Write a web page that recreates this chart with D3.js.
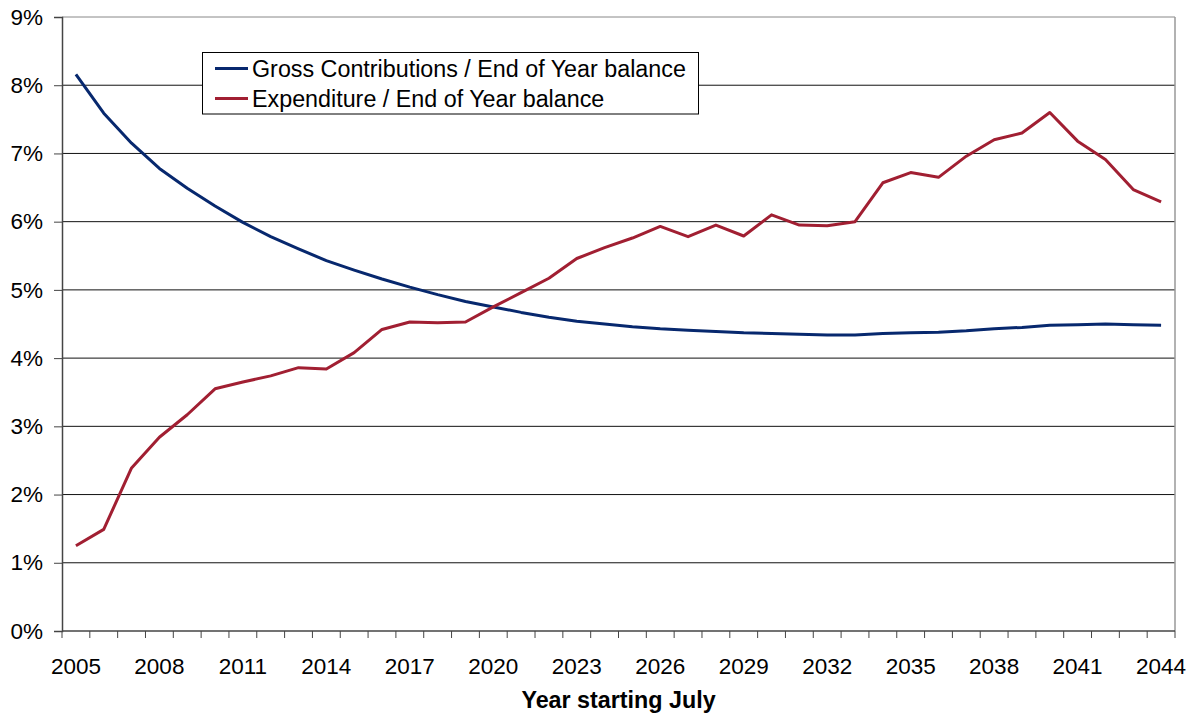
<!DOCTYPE html>
<html>
<head>
<meta charset="utf-8">
<script src="https://cdn.jsdelivr.net/npm/d3@7"></script>
<style>
  html, body { margin: 0; padding: 0; background: #fff; }
  svg { display: block; font-family: "Liberation Sans", Arial, sans-serif; }
</style>
</head>
<body>
<svg id="chart" width="1197" height="717"></svg>
<script>
// Financial years, July start
const years = d3.range(2005, 2045);

// Percentages of end-of-year balance
const grossContributions = [
  8.16, 7.59, 7.15, 6.78, 6.49, 6.23, 5.99, 5.78, 5.60, 5.43,
  5.29, 5.16, 5.04, 4.93, 4.83, 4.75, 4.67, 4.60, 4.54, 4.50,
  4.46, 4.43, 4.41, 4.39, 4.37, 4.36, 4.35, 4.34, 4.34, 4.36,
  4.37, 4.38, 4.40, 4.43, 4.45, 4.48, 4.49, 4.50, 4.49, 4.48
];
const expenditure = [
  1.25, 1.49, 2.39, 2.84, 3.17, 3.55, 3.65, 3.74, 3.86, 3.84,
  4.08, 4.42, 4.53, 4.52, 4.53, 4.75, 4.96, 5.17, 5.46, 5.62,
  5.76, 5.93, 5.78, 5.95, 5.79, 6.10, 5.95, 5.94, 6.00, 6.57,
  6.72, 6.65, 6.96, 7.20, 7.30, 7.60, 7.18, 6.91, 6.47, 6.29
];

const yTicks = [0, 1, 2, 3, 4, 5, 6, 7, 8, 9];
const xTickLabels = [2005, 2008, 2011, 2014, 2017, 2020, 2023, 2026, 2029, 2032, 2035, 2038, 2041, 2044];

const seriesNames = [
  "Gross Contributions / End of Year balance",
  "Expenditure / End of Year balance"
];
const seriesColors = ["#07286e", "#a11f32"];

const svg = d3.select("#chart");
const plot = { left: 62, right: 1175, top: 17, bottom: 631 };

const x = d3.scaleBand().domain(years).range([plot.left, plot.right]).padding(0);
const y = d3.scaleLinear().domain([0, 9]).range([plot.bottom, plot.top]);
const cx = d => x(d) + x.bandwidth() / 2;

// Horizontal gridlines
svg.append("g")
  .selectAll("line")
  .data(yTicks.filter(t => t > 0))
  .join("line")
  .attr("x1", plot.left).attr("x2", plot.right)
  .attr("y1", d => y(d)).attr("y2", d => y(d))
  .attr("stroke", d => d === 9 ? "#888" : "#111")
  .attr("stroke-width", 1);

// Right border of plot area
svg.append("line")
  .attr("x1", plot.right).attr("x2", plot.right)
  .attr("y1", plot.top).attr("y2", plot.bottom)
  .attr("stroke", "#999").attr("stroke-width", 1.5);

// Y axis
const yAxis = d3.axisLeft(y)
  .tickValues(yTicks)
  .tickFormat(d => d + "%")
  .tickSize(8)
  .tickPadding(11);
const gy = svg.append("g")
  .attr("transform", `translate(${plot.left},0)`)
  .call(yAxis);
gy.select(".domain").attr("stroke", "#444").attr("stroke-width", 1.5);
gy.selectAll(".tick line").attr("stroke", "#444");
gy.selectAll(".tick text")
  .attr("font-size", 22.5)
  .attr("fill", "#000")
  .attr("font-family", "Liberation Sans, Arial, sans-serif");

// X axis: tick marks at category boundaries, labels every third year
const gx = svg.append("g").attr("transform", `translate(0,${plot.bottom})`);
gx.append("line")
  .attr("x1", plot.left).attr("x2", plot.right)
  .attr("y1", 0).attr("y2", 0)
  .attr("stroke", "#444").attr("stroke-width", 1.5);
gx.selectAll("line.tick")
  .data(years.concat([null]))
  .join("line")
  .attr("class", "tick")
  .attr("x1", (d, i) => plot.left + i * x.bandwidth())
  .attr("x2", (d, i) => plot.left + i * x.bandwidth())
  .attr("y1", 0).attr("y2", 7)
  .attr("stroke", "#444").attr("stroke-width", 1);
gx.selectAll("text")
  .data(xTickLabels)
  .join("text")
  .attr("x", d => cx(d))
  .attr("y", 43)
  .attr("text-anchor", "middle")
  .attr("font-size", 22.5)
  .attr("fill", "#000")
  .text(d => d);

// Axis title
svg.append("text")
  .attr("x", (plot.left + plot.right) / 2)
  .attr("y", 708)
  .attr("text-anchor", "middle")
  .attr("font-size", 23.3)
  .attr("font-weight", "bold")
  .attr("fill", "#000")
  .text("Year starting July");

// Series lines
const line = d3.line()
  .x((d, i) => cx(years[i]))
  .y(d => y(d));

[grossContributions, expenditure].forEach((vals, k) => {
  svg.append("path")
    .datum(vals)
    .attr("d", line)
    .attr("fill", "none")
    .attr("stroke", seriesColors[k])
    .attr("stroke-width", 3)
    .attr("stroke-linejoin", "round");
});

// Legend
const legend = svg.append("g");
legend.append("rect")
  .attr("x", 202.5).attr("y", 52.5)
  .attr("width", 496).attr("height", 61.5)
  .attr("fill", "#fff")
  .attr("stroke", "#000").attr("stroke-width", 1);
seriesNames.forEach((name, k) => {
  const ly = 68.5 + k * 30;
  legend.append("line")
    .attr("x1", 215).attr("x2", 248)
    .attr("y1", ly).attr("y2", ly)
    .attr("stroke", seriesColors[k]).attr("stroke-width", 3);
  legend.append("text")
    .attr("x", 252).attr("y", ly + 8)
    .attr("font-size", 23.3)
    .attr("fill", "#000")
    .text(name);
});
</script>
</body>
</html>
